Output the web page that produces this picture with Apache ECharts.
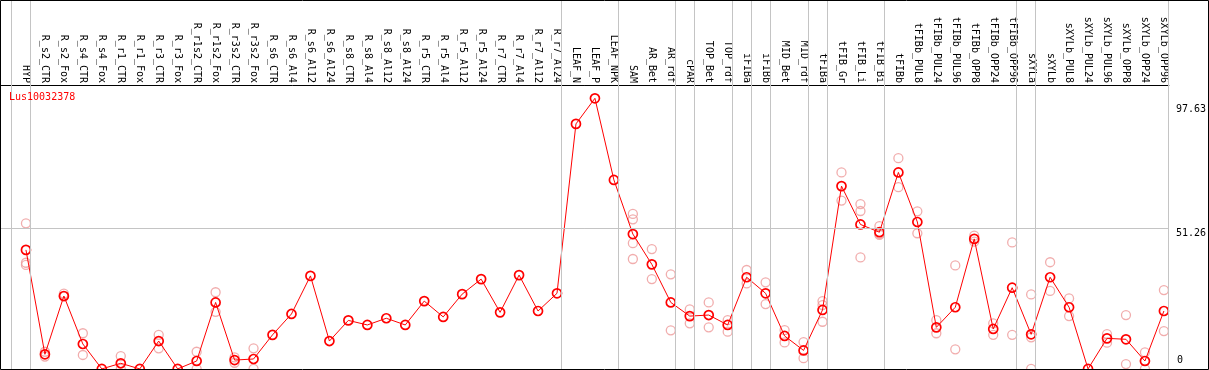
<!DOCTYPE html>
<html>
<head>
<meta charset="utf-8">
<script src="https://cdn.jsdelivr.net/npm/echarts@6/dist/echarts.min.js"></script>
<style>
html,body{margin:0;padding:0;background:#fff;}
#chart{width:1209px;height:370px;}
</style>
</head>
<body>
<div id="chart"></div>
<script>
const seriesName = 'Lus10032378';
const categories = ['HYP','R_s2_CTR','R_s2_Fox','R_s4_CTR','R_s4_Fox','R_r1_CTR','R_r1_Fox','R_r3_CTR','R_r3_Fox','R_r1s2_CTR','R_r1s2_Fox','R_r3s2_CTR','R_r3s2_Fox','R_s6_CTR','R_s6_Al4','R_s6_Al12','R_s6_Al24','R_s8_CTR','R_s8_Al4','R_s8_Al12','R_s8_Al24','R_r5_CTR','R_r5_Al4','R_r5_Al12','R_r5_Al24','R_r7_CTR','R_r7_Al4','R_r7_Al12','R_r7_Al24','LEAF_N','LEAF_P','LEAF_NPK','SAM','AR_Bet','AR_rdf','cPAR','TOP_Bet','TOP_rdf','iFIBa','iFIBb','MID_Bet','MID_rdf','tFIBa','tFIB_Gr','tFIB_Li','tFIB_Bi','tFIBb','tFIBb_PUL8','tFIBb_PUL24','tFIBb_PUL96','tFIBb_OPP8','tFIBb_OPP24','tFIBb_OPP96','sXYLa','sXYLb','sXYLb_PUL8','sXYLb_PUL24','sXYLb_PUL96','sXYLb_OPP8','sXYLb_OPP24','sXYLb_OPP96'];
const meanValues = [43.2,4.25,26.0,8.1,-1.2,0.9,-1.2,9.2,-1.2,1.75,23.6,2.1,2.5,11.5,19.3,33.5,9.2,16.9,15.2,17.7,15.2,24.1,18.2,26.7,32.3,19.9,33.8,20.4,27.0,90.2,99.75,69.3,49.1,37.8,23.6,18.5,18.9,15.2,33.0,27.0,11.1,5.7,20.8,67.0,52.7,49.8,72.1,53.6,14.3,21.8,47.3,13.7,29.1,11.7,33.0,21.8,-1.2,10.2,9.85,1.75,20.4];
const replicateValues = [
  [53.1,38.4,37.6],[5.2,3.4],[26.9,25.8],[12.1,4.0],[],[3.6,-1.2],[],[11.5,6.5],[],[5.2,-1.2],[27.4,20.1],[3.1,1.1],[6.5,-1.2],
  [],[],[],[],[],[],[],[],[],[],[],[],[],[],[],[],
  [],[],[],
  [56.6,54.6,45.7,39.8],[43.5,32.3],[34.1,13.2],[21.0,15.8],[23.6,14.3],[17.0,12.7],[35.7,30.7],[31.1,23.0],[13.3,8.7],[8.8,2.8],
  [24.1,22.6,16.4],[72.1,61.6],[60.3,57.7,40.4],[52.1,49.2,48.8],[77.4,66.6],[57.6,49.4],[17.0,12.1],[37.4,6.1],[48.5,46.3],[15.8,11.5],[46.0,11.5],
  [26.6,10.6,-1.2],[38.6,27.9],[25.1,18.5],[],[11.8,8.6],[18.9,0.6],[5.0,-1.2],[28.2,12.9]
];
const yTickLabels = [0, 51.26, 97.63];
const gridLineValue = 51.26;
// number of categories before each grey group separator
const groupSeparators = [0,1,29,32,35,36,38,39,40,42,43,46,53,54,61];

const FONT = 'DejaVu Sans Mono';
const W = 1209, H = 370;
const gridLeft = 1, gridRight = 1171, gridBottomY = 369, headerY = 85;
const firstX = 26, pitch = 19;
const xMin = (gridLeft - firstX) / pitch;
const xMax = (gridRight - firstX) / pitch;
const yMin = -1.231, yMax = 136.42;
const sepShift = 0.226;

const mainData = meanValues.map((v, i) => [i, v]);
const repData = [];
replicateValues.forEach((arr, i) => arr.forEach(v => repData.push([i, v])));

const chart = echarts.init(document.getElementById('chart'), null, {renderer: 'canvas'});
chart.setOption({
  animation: false,
  backgroundColor: '#fff',
  title: {
    text: seriesName, left: 9, top: 92, padding: 0,
    textStyle: {color: '#ff0000', fontFamily: FONT, fontSize: 10, fontWeight: 'normal'}
  },
  grid: {left: gridLeft, right: W - gridRight, top: 0, bottom: H - gridBottomY, containLabel: false},
  xAxis: {
    type: 'value', position: 'top', offset: -headerY, min: xMin, max: xMax,
    axisLine: {show: true, onZero: false, lineStyle: {color: '#000', width: 1}},
    axisTick: {show: false}, splitLine: {show: false},
    axisLabel: {
      customValues: categories.map((c, i) => i),
      formatter: v => categories[Math.round(v)] || '',
      rotate: 90, margin: 2, color: '#000', fontFamily: FONT, fontSize: 10
    }
  },
  yAxis: [{
    type: 'value', position: 'right', min: yMin, max: yMax,
    axisLine: {show: false}, axisTick: {show: false}, splitLine: {show: false},
    axisLabel: {customValues: yTickLabels.slice(1), formatter: v => String(v), verticalAlign: 'top', margin: 7, color: '#000', fontFamily: FONT, fontSize: 10}
  }, {
    type: 'value', position: 'right', min: yMin, max: yMax,
    axisLine: {show: false}, axisTick: {show: false}, splitLine: {show: false},
    axisLabel: {customValues: yTickLabels.slice(0, 1), formatter: v => String(v), verticalAlign: 'bottom', margin: 8, color: '#000', fontFamily: FONT, fontSize: 10}
  }],
  series: [{
    type: 'scatter', name: 'replicates', data: repData, z: 2,
    symbol: 'circle', symbolSize: 9,
    itemStyle: {color: 'rgba(0,0,0,0)', borderColor: '#ee9898', borderWidth: 1.3},
    markLine: {
      silent: true, symbol: 'none', label: {show: false}, animation: false,
      lineStyle: {color: '#c4c4c4', width: 1, type: 'solid'},
      data: groupSeparators.map(k => ({xAxis: k - 1 + sepShift})).concat([{yAxis: gridLineValue}])
    }
  }, {
    type: 'line', name: seriesName, data: mainData, z: 3,
    symbol: 'circle', symbolSize: 9,
    lineStyle: {color: '#ff0000', width: 1},
    itemStyle: {color: 'rgba(0,0,0,0)', borderColor: '#ff0000', borderWidth: 1.7}
  }],
  graphic: [{
    type: 'rect', silent: true, z: 100,
    shape: {x: 0.5, y: 0.5, width: 1208, height: 369},
    style: {fill: null, stroke: '#000', lineWidth: 1}
  }]
});
</script>
</body>
</html>
